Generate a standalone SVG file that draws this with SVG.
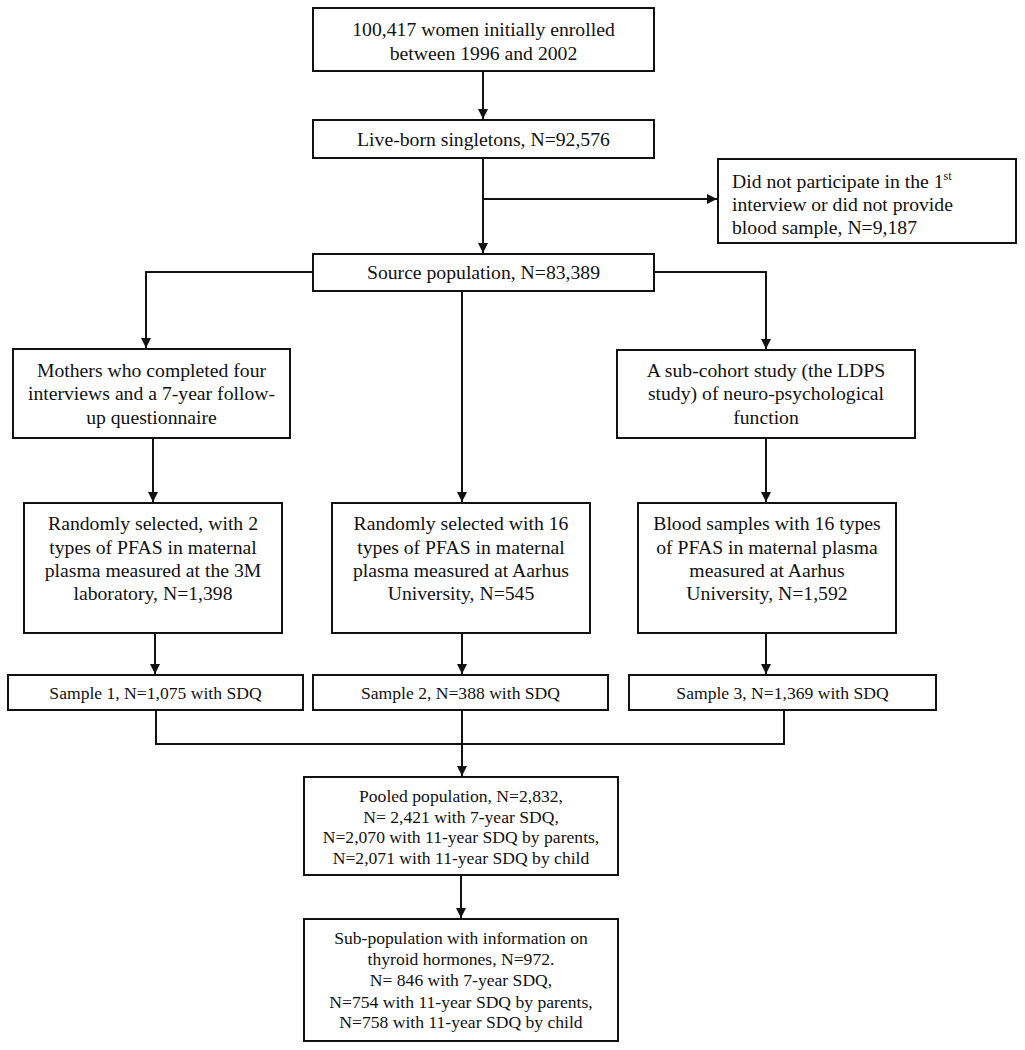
<svg xmlns="http://www.w3.org/2000/svg" width="1025" height="1050" viewBox="0 0 1025 1050">
<style>
rect.b{fill:#fff;stroke:#111;stroke-width:2}
text{font-family:"Liberation Serif","Times New Roman",serif;fill:#111;font-size:19.7px}
.c{text-anchor:middle}
.s{font-size:17.6px}
.p{font-size:17.6px}
path.l{fill:none;stroke:#111;stroke-width:2}
</style>
<defs>
<marker id="a" viewBox="0 0 10 10" refX="10" refY="5" markerWidth="10" markerHeight="10" markerUnits="userSpaceOnUse" orient="auto">
<path d="M0,0 L10,5 L0,10 z" fill="#111"/>
</marker>
</defs>
<rect width="1025" height="1050" fill="#fff"/>
<g id="connectors">
<path class="l" d="M483,71 V119" marker-end="url(#a)"/>
<path class="l" d="M483,158 V253" marker-end="url(#a)"/>
<path class="l" d="M483,199 H717" marker-end="url(#a)"/>
<path class="l" d="M313,272 H146 V348" marker-end="url(#a)"/>
<path class="l" d="M462,291 V502" marker-end="url(#a)"/>
<path class="l" d="M654,272 H766 V349" marker-end="url(#a)"/>
<path class="l" d="M153,438 V502" marker-end="url(#a)"/>
<path class="l" d="M766,438 V502" marker-end="url(#a)"/>
<path class="l" d="M155,633 V674" marker-end="url(#a)"/>
<path class="l" d="M462,633 V674" marker-end="url(#a)"/>
<path class="l" d="M766,633 V674" marker-end="url(#a)"/>
<path class="l" d="M156,710 V744 H784 V710"/>
<path class="l" d="M462,710 V776" marker-end="url(#a)"/>
<path class="l" d="M461,875 V918" marker-end="url(#a)"/>
</g>
<g id="n1"><rect class="b" x="313" y="8" width="341" height="63"/>
<text class="c" x="483.5" y="36">100,417 women initially enrolled</text>
<text class="c" x="483.5" y="60">between 1996 and 2002</text></g>
<g id="n2"><rect class="b" x="313" y="120" width="341" height="38"/>
<text class="c" x="483.5" y="146">Live-born singletons, N=92,576</text></g>
<g id="n3"><rect class="b" x="718" y="159" width="298" height="84"/>
<text x="732" y="188">Did not participate in the 1<tspan font-size="12" dy="-8">st</tspan></text>
<text x="732" y="211">interview or did not provide</text>
<text x="732" y="234">blood sample, N=9,187</text></g>
<g id="n4"><rect class="b" x="313" y="254" width="341" height="37"/>
<text class="c" x="483.5" y="279">Source population, N=83,389</text></g>
<g id="n5"><rect class="b" x="13" y="349" width="277" height="89"/>
<text class="c" x="151.5" y="377">Mothers who completed four</text>
<text class="c" x="151.5" y="400">interviews and a 7-year follow-</text>
<text class="c" x="151.5" y="424">up questionnaire</text></g>
<g id="n6"><rect class="b" x="617" y="350" width="298" height="88"/>
<text class="c" x="766" y="377">A sub-cohort study (the LDPS</text>
<text class="c" x="766" y="400">study) of neuro-psychological</text>
<text class="c" x="766" y="424">function</text></g>
<g id="n7"><rect class="b" x="24" y="503" width="258" height="130"/>
<text class="c" x="153" y="530">Randomly selected, with 2</text>
<text class="c" x="153" y="554">types of PFAS in maternal</text>
<text class="c" x="153" y="577">plasma measured at the 3M</text>
<text class="c" x="153" y="600">laboratory, N=1,398</text></g>
<g id="n8"><rect class="b" x="332" y="503" width="258" height="130"/>
<text class="c" x="461" y="530">Randomly selected with 16</text>
<text class="c" x="461" y="554">types of PFAS in maternal</text>
<text class="c" x="461" y="577">plasma measured at Aarhus</text>
<text class="c" x="461" y="600">University, N=545</text></g>
<g id="n9"><rect class="b" x="638" y="503" width="258" height="130"/>
<text class="c" x="767" y="530">Blood samples with 16 types</text>
<text class="c" x="767" y="554">of PFAS in maternal plasma</text>
<text class="c" x="767" y="577">measured at Aarhus</text>
<text class="c" x="767" y="600">University, N=1,592</text></g>
<g id="n10"><rect class="b" x="8" y="675" width="295" height="35"/>
<text class="c s" x="155.5" y="699">Sample 1, N=1,075 with SDQ</text></g>
<g id="n11"><rect class="b" x="313" y="675" width="295" height="35"/>
<text class="c s" x="460.5" y="699">Sample 2, N=388 with SDQ</text></g>
<g id="n12"><rect class="b" x="629" y="675" width="307" height="35"/>
<text class="c s" x="782.5" y="699">Sample 3, N=1,369 with SDQ</text></g>
<g id="n13"><rect class="b" x="304" y="777" width="314" height="98"/>
<text class="c p" x="461" y="802">Pooled population, N=2,832,</text>
<text class="c p" x="461" y="823">N= 2,421 with 7-year SDQ,</text>
<text class="c p" x="461" y="843">N=2,070 with 11-year SDQ by parents,</text>
<text class="c p" x="461" y="864">N=2,071 with 11-year SDQ by child</text></g>
<g id="n14"><rect class="b" x="304" y="919" width="314" height="122"/>
<text class="c p" x="461" y="944">Sub-population with information on</text>
<text class="c p" x="461" y="965">thyroid hormones, N=972.</text>
<text class="c p" x="461" y="986">N= 846 with 7-year SDQ,</text>
<text class="c p" x="461" y="1008">N=754 with 11-year SDQ by parents,</text>
<text class="c p" x="461" y="1028">N=758 with 11-year SDQ by child</text></g>
</svg>
